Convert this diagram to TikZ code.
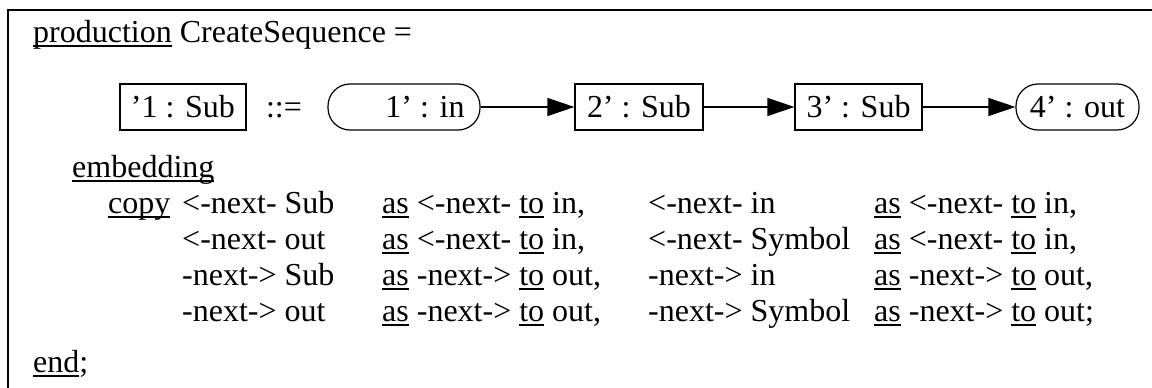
\documentclass[tikz,border=0pt]{standalone}
\usepackage{fontspec}
\setmainfont{Liberation Serif}
\usetikzlibrary{arrows.meta}
\newcommand{\ulx}[1]{\setbox0\hbox{#1}\rlap{\rule[-4.5pt]{\wd0}{1.1pt}}\box0\relax}
\tikzset{
  every node/.style={font=\fontsize{32}{37}\selectfont},
  txt/.style={anchor=base west, inner sep=0pt},
  sqbox/.style={draw, line width=1.2pt, minimum height=46pt, inner xsep=0pt, inner ysep=3pt, text height=30pt, text depth=10pt},
  rdbox/.style={sqbox, rounded corners=22pt},
  link/.style={line width=1.2pt, -{Triangle[length=27pt,width=18pt]}}
}
\begin{document}
\begin{tikzpicture}[x=1pt,y=-1pt]
\useasboundingbox (0,0) rectangle (1152,388);
% frame
\coordinate (fr) at (1152,10);
\coordinate (fc) at (8,10);
\coordinate (fb) at (8,388);
\draw[line width=1.2pt] (fr) -- (fc) -- (fb);
% title
\node[txt] (title) at (33,42) {\ulx{production} CreateSequence =};
% graph row
\node[sqbox, minimum width=126pt] (lhs) at (183,107) {'1 : Sub};
\node[inner sep=0pt, text height=30pt, text depth=10pt] (def) at (284,107) {::=};
\node[rdbox, minimum width=152pt] (in) at (404,107) {\hspace*{42pt}1' : in};
\node[sqbox, minimum width=128pt] (s2) at (639,107) {2' : Sub};
\node[sqbox, minimum width=127pt] (s3) at (858.5,107) {3' : Sub};
\node[rdbox, minimum width=123pt] (out) at (1077.5,107) {4' : out};
\draw[link] (in) -- (s2);
\draw[link] (s2) -- (s3);
\draw[link] (s3) -- (out);
% embedding
\node[txt] (emb) at (72,177) {\ulx{embedding}};
\node[txt] (copy) at (108,213) {\ulx{copy}};
\node[txt] (a1) at (182,213) {<-next- Sub};
\node[txt] (a2) at (182,249) {<-next- out};
\node[txt] (a3) at (182,285) {-next-> Sub};
\node[txt] (a4) at (182,321) {-next-> out};
\node[txt] (b1) at (382,213) {\ulx{as} <-next- \ulx{to} in,};
\node[txt] (b2) at (382,249) {\ulx{as} <-next- \ulx{to} in,};
\node[txt] (b3) at (382,285) {\ulx{as} -next-> \ulx{to} out,};
\node[txt] (b4) at (382,321) {\ulx{as} -next-> \ulx{to} out,};
\node[txt] (c1) at (648,213) {<-next- in};
\node[txt] (c2) at (648,249) {<-next- Symbol};
\node[txt] (c3) at (648,285) {-next-> in};
\node[txt] (c4) at (648,321) {-next-> Symbol};
\node[txt] (d1) at (874,213) {\ulx{as} <-next- \ulx{to} in,};
\node[txt] (d2) at (874,249) {\ulx{as} <-next- \ulx{to} in,};
\node[txt] (d3) at (874,285) {\ulx{as} -next-> \ulx{to} out,};
\node[txt] (d4) at (874,321) {\ulx{as} -next-> \ulx{to} out;};
\node[txt] (endk) at (33,372) {\ulx{end};};
\end{tikzpicture}
\end{document}
